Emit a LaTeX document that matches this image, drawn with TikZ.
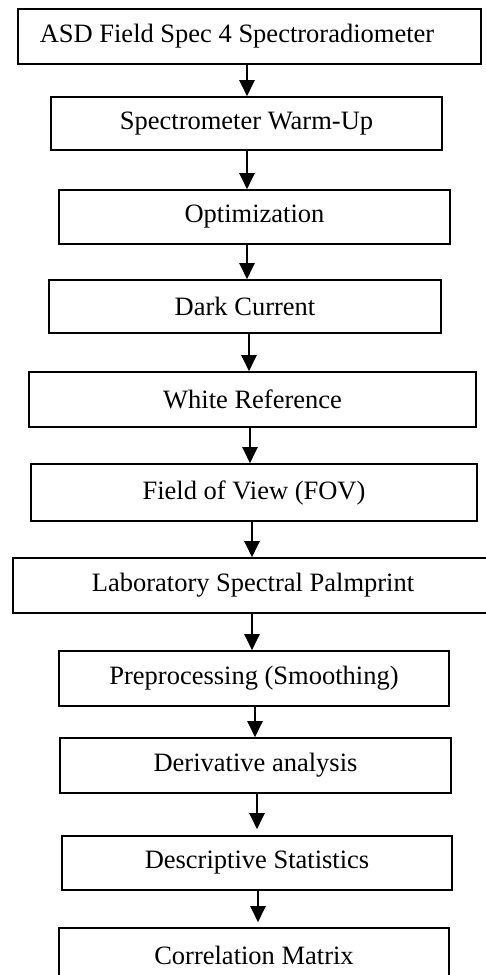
\documentclass[tikz,border=0pt]{standalone}
\usepackage{fontspec}
\setmainfont{Liberation Serif}
\usetikzlibrary{arrows.meta}

\begin{document}
\begin{tikzpicture}[x=1pt,y=-1pt,
    blk/.style={draw,line width=1.6pt,inner sep=0pt,font=\fontsize{26.5}{32}\selectfont},
    flow/.style={line width=2.2pt,-{Triangle[width=15pt,length=16pt]}}]
    \clip (0,0) rectangle (486,975);
    % the steps, top to bottom
    \foreach \n/\x/\y/\w/\h/\t in {
        asd/249.5/36.5/463/55/{ASD Field Spec 4 Spectroradiometer\hspace*{25pt}},
        warmup/246.5/123.5/391/53/{Spectrometer Warm-Up},
        optim/254.5/217/391/54/{Optimization},
        dark/245/306.5/392/53/{Dark Current},
        white/252.5/399.5/447/55/{White Reference},
        fov/254/492.5/446/57/{Field of View (FOV)},
        lab/253/585.5/480/55/{Laboratory Spectral Palmprint},
        prep/254/678.5/390/55/{Preprocessing (Smoothing)},
        deriv/255.5/765.5/391/55/{Derivative analysis},
        descr/257/863/390/54/{Descriptive Statistics},
        corr/254/955/390/54/{Correlation Matrix}} {
        \node[blk,minimum width=\w pt,minimum height=\h pt] (\n) at (\x,\y) {\t};
    };
    % arrows between them
    \foreach \a/\b/\xa/\g in {asd/warmup/247/0, warmup/optim/247/0, optim/dark/247/0,
        dark/white/249/0, white/fov/250/0, fov/lab/252/0, lab/prep/252/0,
        prep/deriv/255/0, deriv/descr/257/6, descr/corr/258/5} {
        \draw[flow,shorten >=\g pt] (\xa,0 |- \a.south) -- (\xa,0 |- \b.north);
    };
\end{tikzpicture}
\end{document}
